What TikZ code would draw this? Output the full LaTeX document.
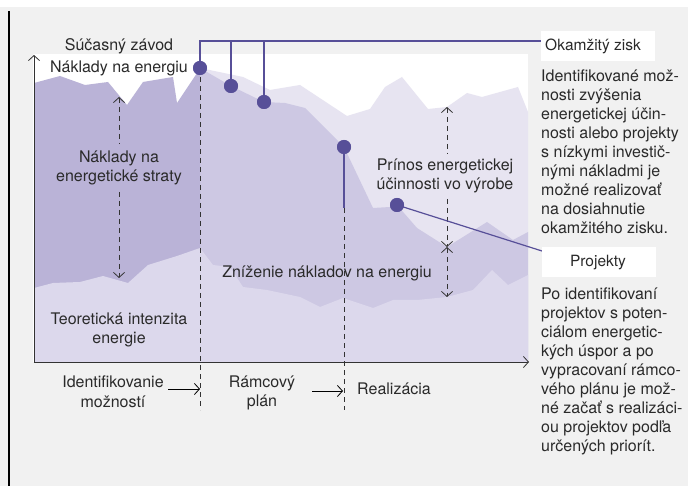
\documentclass[tikz,border=0pt]{standalone}
\usepackage{fontspec}
\setmainfont{TeX Gyre Heros}
\usetikzlibrary{arrows.meta}
\definecolor{bggray}{HTML}{F1F1F1}
\definecolor{darkf}{HTML}{BAB3D7}
\definecolor{medf}{HTML}{CDC8E3}
\definecolor{lightf}{HTML}{E7E4F1}
\definecolor{botf}{HTML}{DCD8EC}
\definecolor{dotc}{HTML}{574F98}
\definecolor{txtc}{HTML}{2A2A2A}
\definecolor{dashc}{HTML}{333333}
\begin{document}
\begin{tikzpicture}[x=1pt,y=-1pt,
  txt/.style={font=\fontsize{16}{19.5}\selectfont, text=txtc, inner sep=0pt, align=center},
  boxtxt/.style={font=\fontsize{15.5}{18}\selectfont, text=txtc, inner sep=0pt},
  sidetxt/.style={font=\fontsize{16}{19}\selectfont, text=txtc, inner sep=0pt, align=left, anchor=north west},
  dotn/.style={circle, fill=dotc, minimum size=14pt, inner sep=0pt},
  pline/.style={draw=dotc, line width=1.5pt},
  dashline/.style={draw=dashc, line width=0.9pt, dash pattern=on 5pt off 4pt},
  barb/.style={arrows={Straight Barb[length=5pt,width=11pt,line width=0.8pt]-Straight Barb[length=5pt,width=11pt,line width=0.8pt]}},
  barbend/.style={-{Straight Barb[length=5pt,width=11pt,line width=0.8pt]}},
  barbstart/.style={{Straight Barb[length=5pt,width=11pt,line width=0.8pt]}-},
  axis/.style={draw=dashc, line width=1pt, -{Straight Barb[length=5pt,width=11pt,line width=0.8pt]}},
  lbox/.style={fill=white, draw=none, minimum width=114pt, minimum height=30pt, inner sep=0pt, anchor=north west}
]
\useasboundingbox (0,0) rectangle (688,486);
% background
\fill[bggray] (0,7) rectangle (688,486);
\draw[black, line width=1.2pt] (9,11) -- (9,486);
% plot area
\fill[white] (33,54) rectangle (528,362);
% light band
\fill[lightf] (200,68) -- (243,77) -- (270,90) -- (300,85) -- (347,116) -- (370,109) -- (385,87) -- (402,77) -- (428,109) -- (447,107) -- (467,93) -- (482,97) -- (518,87) -- (528,112) -- (528,362) -- (200,362) -- cycle;
% medium band
\fill[medf] (200,68) -- (231,86) -- (264,102) -- (285,103) -- (305,108) -- (344,147) -- (373,208) -- (390,207) -- (397,205) -- (417,228) -- (447,247) -- (487,222) -- (513,240) -- (528,232) -- (528,362) -- (200,362) -- cycle;
% dark band
\fill[darkf] (34,83) -- (60,76) -- (85,85) -- (108,82) -- (127,105) -- (143,82) -- (173,77) -- (177,103) -- (197,73) -- (200,68) -- (200,362) -- (34,362) -- cycle;
% bottom band
\fill[botf] (34,288) -- (53,283) -- (80,282) -- (103,276) -- (128,283) -- (148,265) -- (177,256) -- (200,248) -- (213,265) -- (230,267) -- (243,287) -- (267,290) -- (300,297) -- (320,307) -- (343,298) -- (373,308) -- (393,300) -- (417,300) -- (447,297) -- (473,290) -- (492,270) -- (508,285) -- (528,275) -- (528,362) -- (34,362) -- cycle;

% coordinates
\coordinate (origin) at (34,362);
\coordinate (ytip) at (34,55);
\coordinate (xtip) at (529,362);
\coordinate (v1bot) at (200,410);
\coordinate (v2top) at (344,208);
\coordinate (v2bot) at (344,410);
\coordinate (t1) at (200,41);
\coordinate (t2) at (231,41);
\coordinate (t3) at (264,41);
\coordinate (okjoin) at (541,41);
\coordinate (prjoin) at (542,251);
\coordinate (la) at (119,97);
\coordinate (lb) at (119,143);
\coordinate (lc) at (119,192);
\coordinate (ld) at (119,278);
\coordinate (ra) at (447,107);
\coordinate (rb) at (447,153);
\coordinate (rc) at (447,199);
\coordinate (rx) at (447,247);
\coordinate (rd) at (447,297);

% dots
\node[dotn] (d1) at (200,68) {};
\node[dotn] (d2) at (231,86) {};
\node[dotn] (d3) at (264,102) {};
\node[dotn] (d4) at (344,147) {};
\node[dotn] (d5) at (397,205) {};

% dashed verticals
\draw[dashline] (d1.center) -- (v1bot);
\draw[dashline] (v2top) -- (v2bot);

% dashed arrows
\draw[dashline, barbstart] (la) -- (lb);
\draw[dashline, barbend] (lc) -- (ld);
\draw[dashline, barbstart] (ra) -- (rb);
\draw[dashline, barbend] (rc) -- (rx);
\draw[dashline, barb] (rx) -- (rd);

% axes
\draw[axis] (origin) -- (ytip);
\draw[axis] (origin) -- (xtip);

% purple connectors
\draw[pline] (d1.center) -- (t1) -- (okjoin);
\draw[pline] (d2.center) -- (t2);
\draw[pline] (d3.center) -- (t3);
\draw[pline] (d4.center) -- (v2top);
\draw[pline, line width=1.2pt] (d5.center) -- (prjoin);
\node[dotn] at (d1) {};
\node[dotn] at (d2) {};
\node[dotn] at (d3) {};
\node[dotn] at (d4) {};
\node[dotn] at (d5) {};

% label boxes
\node[lbox] (okbox) at (541,31) {};
\node[boxtxt, anchor=west] (oktxt) at (545,46) {Okamžitý zisk};
\node[lbox] (prbox) at (542,247) {};
\node[boxtxt] (prtxt) at (598,263) {Projekty};

% side texts
\node[sidetxt] (oktext) at (541,70) {Identifikované mož-\\nosti zvýšenia\\energetickej účin-\\nosti alebo projekty\\s nízkymi investič-\\nými nákladmi je\\možné realizovať\\na dosiahnutie\\okamžitého zisku.};
\node[sidetxt] (prtext) at (541,288) {Po identifikovaní\\projektov s poten-\\ciálom energetic-\\kých úspor a po\\vypracovaní rámco-\\vého plánu je mož-\\né začať s realizáci-\\ou projektov podľa\\určených priorít.};

% chart texts
\node[txt] (cur) at (119,46) {Súčasný závod};
\node[txt] (ener) at (119,68) {Náklady na energiu};
\node[txt] (loss) at (119,168) {Náklady na\\energetické straty};
\node[txt] (theo) at (119,330) {Teoretická intenzita\\energie};
\node[txt] (red) at (327,273) {Zníženie nákladov na energiu};
\node[txt] (gain) at (445,176) {Prínos energetickej\\účinnosti vo výrobe};

% phases
\node[txt] (ph1) at (113,392) {Identifikovanie\\možností};
\node[txt] (ph2) at (262,393) {Rámcový\\plán};
\node[txt, anchor=west] (ph3) at (357,389) {Realizácia};
\coordinate (a1s) at (168,389);
\coordinate (a1e) at (200,389);
\coordinate (a2s) at (312,391);
\coordinate (a2e) at (343,391);
\draw[draw=black, line width=0.9pt, barbend] (a1s) -- (a1e);
\draw[draw=black, line width=0.9pt, barbend] (a2s) -- (a2e);
\end{tikzpicture}
\end{document}
